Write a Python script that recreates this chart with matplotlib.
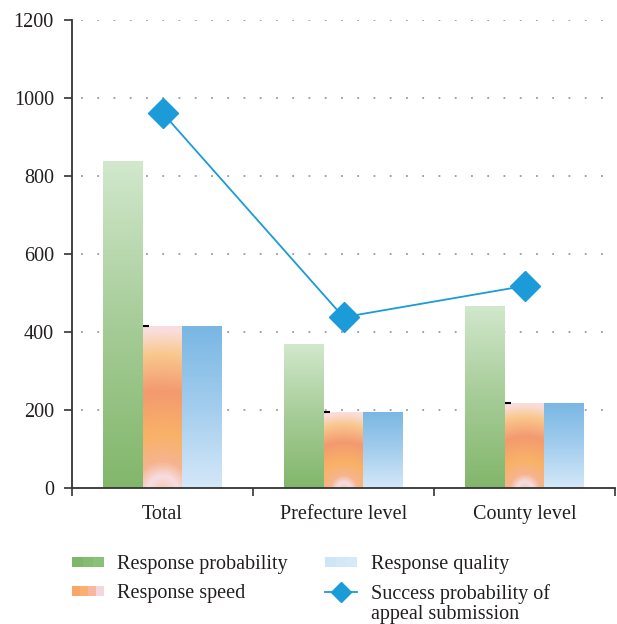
import numpy as np
import matplotlib
matplotlib.use('Agg')
from matplotlib import pyplot as plt
from matplotlib.colors import LinearSegmentedColormap
from matplotlib.patches import Rectangle
from matplotlib.lines import Line2D
from matplotlib.legend_handler import HandlerBase

## DATA ##
categories = ['Total', 'Prefecture level', 'County level']
response_probability = [838, 369, 467]
response_speed = [415, 195, 218]
response_quality = [415, 195, 218]
success_probability = [962, 438, 518]

## CONFIGS ##
FONT = 'Liberation Serif'
FONT_SIZE = 14.5
TEXT_COLOR = '#231f20'
LINE_COLOR = '#1b9bd7'
plt.rcParams['font.family'] = FONT
plt.rcParams['font.size'] = FONT_SIZE
plt.rcParams['text.color'] = TEXT_COLOR
plt.rcParams['xtick.color'] = '#333333'
plt.rcParams['ytick.color'] = '#333333'
plt.rcParams['xtick.labelcolor'] = TEXT_COLOR
plt.rcParams['ytick.labelcolor'] = TEXT_COLOR

green_cmap = LinearSegmentedColormap.from_list('g', ['#82b76b', '#a6cc97', '#d1e8cc'])
blue_cmap = LinearSegmentedColormap.from_list('b', ['#d4e8f8', '#a3cdee', '#79b7e3'])
orange_cmap = LinearSegmentedColormap.from_list('o', [
    (0.0, '#f8c8b0'), (0.09, '#f6dde2'), (0.18, '#f6b48e'), (0.35, '#f9b266'),
    (0.62, '#f39a70'), (0.85, '#f9c88e'), (1.0, '#f9dedd')])


def vertical_gradient(aspect):
    return np.linspace(0, 1, 200).reshape(-1, 1)


def radial_gradient(aspect):
    # aspect = bar width / bar height, both in pixels
    u, v = np.meshgrid(np.linspace(0, 1, 60), np.linspace(0, 1, 200))
    r = np.sqrt(((u - 0.5) * aspect) ** 2 + (v + 0.02) ** 2)
    return np.clip(r, 0, 1)


fig = plt.figure(figsize=(6.17, 6.24), dpi=100)
ax = fig.add_axes([72 / 617, 1 - 488 / 624, 543 / 617, 468 / 624])

pos = np.arange(len(categories))
width = 0.22
ax.set_xlim(-0.5, 2.5)
ax.set_ylim(0, 1200)
px_per_x = 543 / 3.0
px_per_y = 468 / 1200.0

series = [
    (response_probability, -width, green_cmap, vertical_gradient),
    (response_speed, 0, orange_cmap, radial_gradient),
    (response_quality, width, blue_cmap, vertical_gradient),
]
for vals, off, cmap, grad in series:
    bars = ax.bar(pos + off, vals, width, color='none', edgecolor='none', zorder=2)
    for b in bars:
        x0, y0 = b.get_x(), b.get_y()
        aspect = (b.get_width() * px_per_x) / (b.get_height() * px_per_y)
        im = ax.imshow(grad(aspect), cmap=cmap, origin='lower', aspect='auto',
                       extent=[x0, x0 + b.get_width(), y0, y0 + b.get_height()],
                       zorder=2, interpolation='bilinear', vmin=0, vmax=1)
        im.set_clip_path(b)

# small black caps at the top-left of the speed bars
ax.plot(pos - width / 2 + 0.02, response_speed, ls='none', marker='_',
        color='black', ms=5, mew=1.5, zorder=3)

ax.plot(pos, success_probability, color=LINE_COLOR, lw=1.3, marker='D',
        ms=15, mec=LINE_COLOR, mfc=LINE_COLOR, zorder=4)

ax.set_xlim(-0.5, 2.5)
ax.set_ylim(0, 1200)
ax.set_yticks(range(0, 1201, 200))
ax.set_xticks([-0.5, 0.5, 1.5, 2.5])
ax.set_xticklabels([])
ax.set_xticks(pos, minor=True)
ax.set_xticklabels(categories, minor=True)
ax.tick_params(axis='x', which='minor', length=0, pad=12)
ax.tick_params(axis='x', which='major', length=6, width=1.2, direction='out')
ax.tick_params(axis='y', length=6, width=1.2, direction='out', pad=7)

for sp in ['top', 'right']:
    ax.spines[sp].set_visible(False)
for sp in ['left', 'bottom']:
    ax.spines[sp].set_color('#333333')
    ax.spines[sp].set_linewidth(1.3)

for yv in range(200, 1201, 200):
    ax.axhline(yv, color='#9a9a9a', lw=1.3, ls=(4, (1, 8)), zorder=1)


class StripeHandler(HandlerBase):
    def __init__(self, colors):
        super().__init__()
        self.colors = colors

    def create_artists(self, legend, orig_handle, xdescent, ydescent,
                       width, height, fontsize, trans):
        n = len(self.colors)
        h = height * 0.7
        y = -ydescent + (height - h) / 2
        arts = []
        for i, c in enumerate(self.colors):
            arts.append(Rectangle((-xdescent + width * i / n, y), width / n, h,
                                  facecolor=c, edgecolor='none', transform=trans))
        return arts


h_prob = Rectangle((0, 0), 1, 1)
h_speed = Rectangle((0, 0), 1, 1)
h_qual = Rectangle((0, 0), 1, 1)
h_line = Line2D([], [], color=LINE_COLOR, lw=1.3, marker='D', ms=10,
                mfc=LINE_COLOR, mec=LINE_COLOR)

leg = fig.legend([h_prob, h_speed, h_qual, h_line],
                 ['Response probability', 'Response speed', 'Response quality',
                  'Success probability of'],
                 handler_map={
                     h_prob: StripeHandler(['#7fb76a', '#86bb72', '#8cbf78']),
                     h_speed: StripeHandler(['#f7a56a', '#f9b070', '#f6b9a0', '#f4d6dc']),
                     h_qual: StripeHandler(['#cfe4f6', '#d3e7f7', '#d6e9f8']),
                 },
                 ncol=2, loc='upper left', bbox_to_anchor=(72 / 617, 1 - 555 / 624),
                 frameon=False, handlelength=1.6, handletextpad=0.65,
                 columnspacing=1.85, labelspacing=0.5, borderpad=0,
                 borderaxespad=0, fontsize=FONT_SIZE)

fig.canvas.draw()
t = leg.get_texts()[3]
bb = t.get_window_extent()
fig.text(bb.x0 / fig.bbox.width, (bb.y0 - 1) / fig.bbox.height, 'appeal submission',
         ha='left', va='top', fontsize=FONT_SIZE)

fig.savefig('out.png', dpi=100)
